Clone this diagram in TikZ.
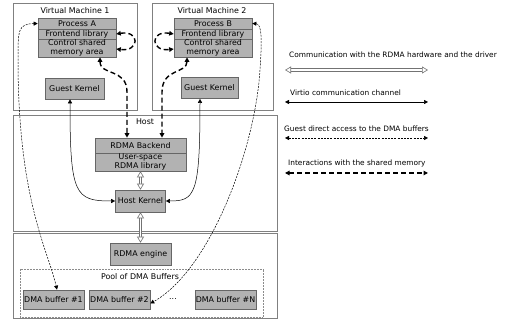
\documentclass[tikz,border=0pt]{standalone}
\usepackage{fontspec}
\setmainfont{DejaVu Sans}
\usetikzlibrary{arrows.meta}
\begin{document}
\begin{tikzpicture}[x=1pt,y=-1pt,
  font=\fontsize{7.9}{8.6}\selectfont,
  region/.style={draw=black!50, line width=0.8pt, rectangle, inner sep=0pt},
  gbox/.style={draw=black!60, fill=black!30, line width=0.6pt, rectangle, inner sep=0pt, align=center},
  pool/.style={draw=black!45, densely dotted, line width=0.5pt, rectangle, inner sep=0pt},
  virtio/.style={line width=0.5pt, {Triangle[length=4pt,width=4pt]}-{Triangle[length=4pt,width=4pt]}},
  shm/.style={line width=1.4pt, dash pattern=on 5pt off 3pt, {Triangle[length=4.5pt,width=4.5pt]}-{Triangle[length=4.5pt,width=4.5pt]}},
  direct/.style={line width=0.5pt, dash pattern=on 2pt off 1.2pt, {Triangle[length=4pt,width=4pt]}-{Triangle[length=4pt,width=4pt]}},
  hw/.style={draw=black!55, double=white, double distance=1.5pt, line width=0.9pt,
    {Triangle[length=6pt,width=7pt,fill=white,line width=0.6pt]}-{Triangle[length=6pt,width=7pt,fill=white,line width=0.6pt]}},
  legend/.style={anchor=west, inner sep=0pt, font=\fontsize{7.4}{8}\selectfont}
]
\useasboundingbox (0,0) rectangle (512,320);

% Virtual Machine 1
\node[region, minimum width=124pt, minimum height=107pt] (vm1) at (75,56.5) {};
\node (vm1l) at (75,11) {Virtual Machine 1};
\node[gbox, minimum width=78pt, minimum height=11pt] (pa) at (77,23.5) {Process A};
\node[gbox, minimum width=78pt, minimum height=10pt] (fe1) at (77,34) {Frontend library};
\node[gbox, minimum width=78pt, minimum height=18pt] (cs1) at (77,48) {Control shared\\memory area};
\node[gbox, minimum width=59pt, minimum height=21pt] (gk1) at (74.5,88.5) {Guest Kernel};

% Virtual Machine 2
\node[region, minimum width=121pt, minimum height=107pt] (vm2) at (212.5,56.5) {};
\node (vm2l) at (212,11) {Virtual Machine 2};
\node[gbox, minimum width=78pt, minimum height=11pt] (pb) at (213,23.5) {Process B};
\node[gbox, minimum width=78pt, minimum height=10pt] (fe2) at (213,34) {Frontend library};
\node[gbox, minimum width=78pt, minimum height=18pt] (cs2) at (213,48) {Control shared\\memory area};
\node[gbox, minimum width=57pt, minimum height=21pt] (gk2) at (209.5,88) {Guest Kernel};

% Host
\node[region, minimum width=264pt, minimum height=116pt] (host) at (145,173) {};
\node (hostl) at (145,122) {Host};
\node[gbox, minimum width=91pt, minimum height=15pt] (be) at (140.5,145.5) {RDMA Backend};
\node[gbox, minimum width=91pt, minimum height=18pt] (ul) at (140.5,162) {User-space\\RDMA library};
\node[gbox, minimum width=50pt, minimum height=22pt] (hk) at (140.5,201) {Host Kernel};

% Hardware
\node[region, minimum width=264pt, minimum height=85pt] (hwr) at (145,275.5) {};
\node[gbox, minimum width=61pt, minimum height=22pt] (re) at (140.5,254) {RDMA engine};
\node[pool, minimum width=243pt, minimum height=48pt] (pl) at (141.5,293) {};
\node (pll) at (140,277) {Pool of DMA Buffers};
\node[gbox, minimum width=61pt, minimum height=19pt] (db1) at (53.5,299.5) {DMA buffer \#1};
\node[gbox, minimum width=61pt, minimum height=19pt] (db2) at (119.5,299.5) {DMA buffer \#2};
\node (dots) at (173,299) {...};
\node[gbox, minimum width=61pt, minimum height=19pt] (dbn) at (225.5,299.5) {DMA buffer \#N};

% Hardware communication
\draw[hw] (ul.south) -- (hk.north);
\draw[hw] (hk.south) -- (re.north);

% Virtio
\draw[virtio] ([xshift=-4.5pt]gk1.south) .. controls (70,195) and (75,201) .. (hk.west);
\draw[virtio] ([xshift=-9.5pt]gk2.south) .. controls (200,195) and (195,201) .. (hk.east);

% Shared memory
\draw[shm] ([xshift=23pt]cs1.south) .. controls (100,76) and (127,68) .. (127,92) -- ([xshift=-13.5pt]be.north);
\draw[shm] ([xshift=-26pt]cs2.south) .. controls (187,74) and (162,68) .. (162,92) -- ([xshift=21.5pt]be.north);
\draw[shm] (fe1.east) .. controls (140,30) and (140,52) .. ([yshift=-1pt]cs1.east);
\draw[shm] (fe2.west) .. controls (150,30) and (150,52) .. ([yshift=-1pt]cs2.west);

% Guest direct access
\draw[direct] (pa.west) .. controls (18,24) and (18,30) .. (18,60) .. controls (18,200) and (48,250) .. ([xshift=3.5pt]db1.north);
\draw[direct] (pb.east) .. controls (262,24) and (262,40) .. (260,70) .. controls (255,150) and (210,270) .. ([yshift=-4pt]db2.east);

% Legend
\node[legend] (t1) at (289,55) {Communication with the RDMA hardware and the driver};
\coordinate (l1a) at (285,70); \coordinate (l1b) at (428,70);
\draw[hw] (l1a) -- (l1b);
\node[legend] (t2) at (290,93) {Virtio communication channel};
\coordinate (l2a) at (285,102); \coordinate (l2b) at (428,102);
\draw[virtio] (l2a) -- (l2b);
\node[legend] (t3) at (284,129) {Guest direct access to the DMA buffers};
\coordinate (l3a) at (285,138); \coordinate (l3b) at (428,138);
\draw[direct] (l3a) -- (l3b);
\node[legend] (t4) at (288,163) {Interactions with the shared memory};
\coordinate (l4a) at (285,173); \coordinate (l4b) at (428,173);
\draw[shm] (l4a) -- (l4b);
\end{tikzpicture}
\end{document}
